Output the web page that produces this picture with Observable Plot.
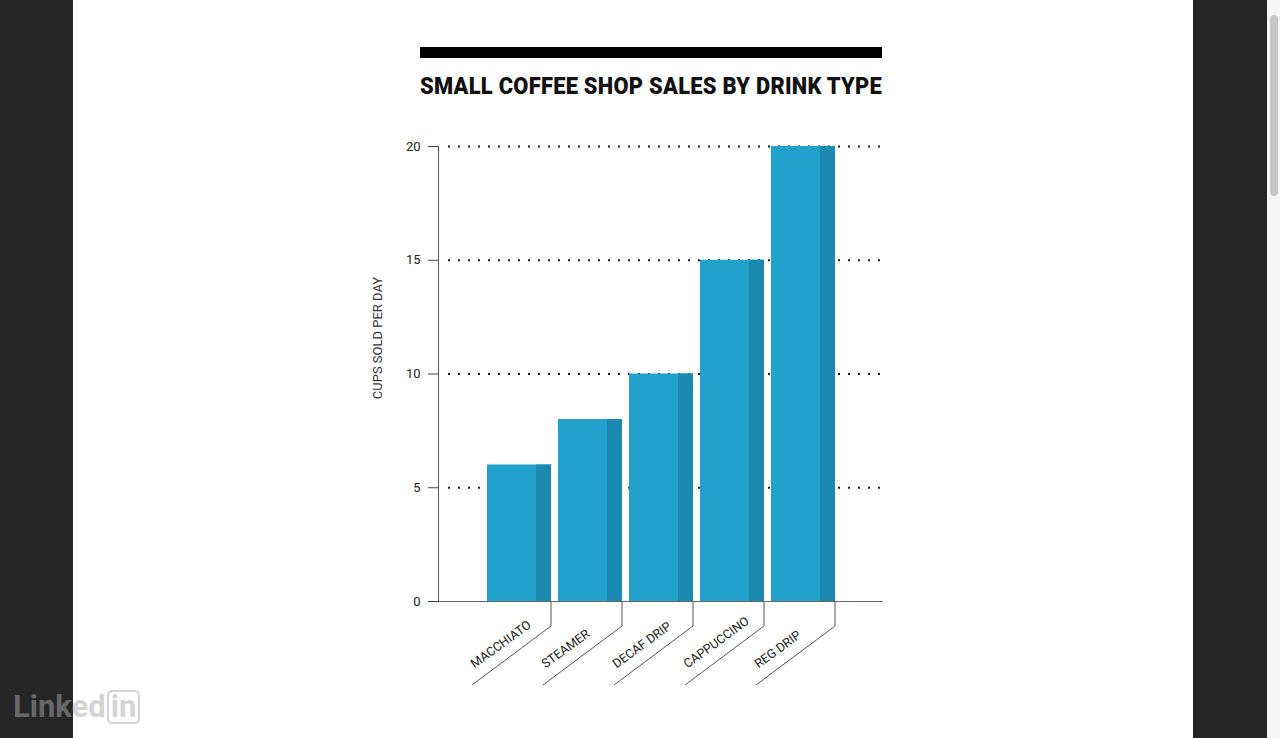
<!DOCTYPE html>
<html><head><meta charset="utf-8">
<script src="https://cdn.jsdelivr.net/npm/d3@7"></script>
<script src="https://cdn.jsdelivr.net/npm/@observablehq/plot@0.6"></script>
<style>
html,body{margin:0;padding:0;width:1280px;height:738px;overflow:hidden;background:#262626;}
#page{position:absolute;left:73px;top:0;width:1120px;height:738px;background:#fff;}
#scroll{position:absolute;left:1267px;top:0;width:13px;height:738px;background:#f6f6f6;}
#thumb{position:absolute;left:1270px;top:15px;width:8px;height:181px;border-radius:4px;background:#c6c6c6;}
#rule{position:absolute;left:420px;top:47px;width:462px;height:11px;background:#000;}
#title{position:absolute;left:420px;top:73.8px;font:900 24px/24px Roboto;color:#111;white-space:nowrap;transform-origin:0 0;letter-spacing:0.3px;}
#chart{position:absolute;left:340px;top:110px;}
#logo{position:absolute;left:13px;top:689px;font:700 31px/36px Roboto;color:rgba(170,170,170,0.5);white-space:nowrap;}
#logo span{display:inline-block;border:2px solid rgba(170,170,170,0.5);border-radius:5px;padding:0 2px;line-height:30px;margin-left:1px;}
</style></head>
<body>
<div id="page"></div>
<div id="scroll"></div><div id="thumb"></div>
<div id="rule"></div>
<div id="title">SMALL COFFEE SHOP SALES BY DRINK TYPE</div>
<div id="chart"></div>
<div id="logo">Linked<span>in</span></div>
<script>
const drinks = ["MACCHIATO", "STEAMER", "DECAF DRIP", "CAPPUCCINO", "REG DRIP"];
const cups = [6, 8, 10, 15, 20];
const yTicks = [0, 5, 10, 15, 20];
const gridTicks = [5, 10, 15, 20];
const yLabel = "CUPS SOLD PER DAY";

const data = drinks.map((d, i) => ({drink: d, cups: cups[i]}));

function leaders(index, scales) {
  const {x, y} = scales;
  const g = d3.create("svg:g").attr("stroke", "#555").attr("fill", "none").attr("stroke-width", 1);
  const y0 = y(0);
  for (const d of drinks) {
    const xr = x(d) + x.bandwidth();
    g.append("path").attr("d", `M${xr},${y0}V${y0 + 25}L${xr - 79},${y0 + 84}`);
  }
  return g.node();
}

const chart = Plot.plot({
  width: 560, height: 600,
  marginLeft: 98, marginRight: 17, marginTop: 36, marginBottom: 109,
  style: {background: "transparent", fontFamily: "Roboto", fontSize: "12px", color: "#222", overflow: "visible"},
  x: {domain: drinks, paddingInner: 0.1, paddingOuter: 0.67, axis: null},
  y: {domain: [0, 20], axis: null},
  marks: [
    Plot.ruleY(gridTicks, {stroke: "#1e1e1e", strokeWidth: 2, strokeDasharray: "2 8", insetLeft: 10}),
    Plot.barY(data, {x: "drink", y: "cups", fill: "#22a1cd"}),
    Plot.barY(data, {x: "drink", y: "cups", fill: "#1c89ae", insetLeft: 49}),
    Plot.ruleY([0], {stroke: "#666"}),
    Plot.axisY({ticks: yTicks, tickSize: 10, tickPadding: 8, label: null, stroke: "#444", fontSize: 13, fill: "#222"}),
    Plot.frame({anchor: "left", stroke: "#555"}),
    Plot.text([yLabel], {text: d => d, frameAnchor: "left", textAnchor: "middle", rotate: -90, dx: -61, dy: -36, fill: "#333", fontSize: 13}),
    Plot.text(data, {x: "drink", frameAnchor: "bottom", text: "drink", rotate: -36, textAnchor: "start", lineAnchor: "bottom", dx: -45, dy: 67, fill: "#222", fontSize: 12.5}),
    leaders
  ]
});
document.getElementById("chart").appendChild(chart);

const t = document.getElementById("title");
const w = t.getBoundingClientRect().width;
t.style.transform = `scaleX(${462 / w})`;
</script>
</body></html>
